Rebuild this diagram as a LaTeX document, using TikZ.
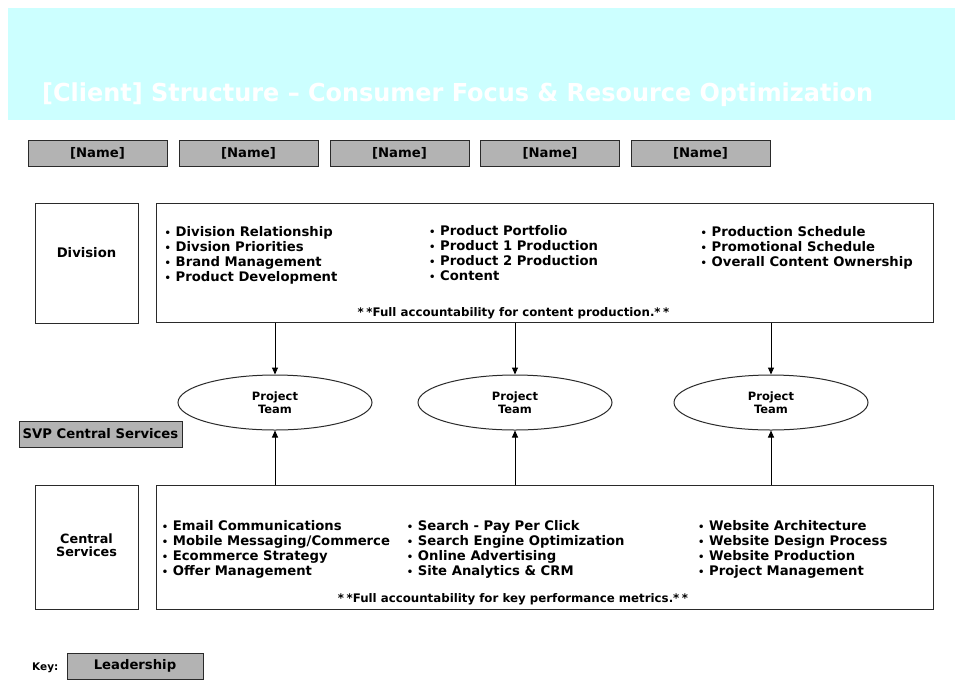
\documentclass[tikz,border=0pt]{standalone}
\usepackage{fontspec}
\usepackage{graphicx}
\setmainfont{DejaVu Sans}
\usetikzlibrary{shapes.geometric,arrows.meta}
\definecolor{bannercyan}{HTML}{CCFFFF}
\definecolor{leadgray}{HTML}{B3B3B3}
\definecolor{edge}{HTML}{2A2A2A}
\newcommand\bl{\makebox[11pt][l]{\fontsize{10}{10}\selectfont •}}
\newcommand\stars{*\kern2.5pt*}
\begin{document}
\begin{tikzpicture}[x=1pt,y=-1pt,
  every node/.style={font=\bfseries\fontsize{13.2}{15}\selectfont, text=black},
  graybox/.style={draw=edge, line width=1pt, fill=leadgray, minimum height=26, inner sep=0},
  framebox/.style={draw=edge, line width=1pt, fill=white},
  cols/.style={anchor=base west, inner sep=0, align=left},
  foot/.style={anchor=base, inner sep=0, font=\bfseries\fontsize{11.8}{13}\selectfont},
  team/.style={draw=edge, line width=1pt, ellipse, minimum width=194, minimum height=55, inner sep=0, align=center, font=\bfseries\fontsize{11.5}{13.3}\selectfont},
  conn/.style={draw=black, line width=1pt, -{Triangle[length=7pt,width=6pt]}}
]
\useasboundingbox (0,0) rectangle (955,681);
\fill[white] (0,0) rectangle (955,681);
% banner
\fill[bannercyan] (8,8) rectangle (955,120);
\node[anchor=base west, inner sep=0, text=white] (title) at (42,101)
  {\fontsize{24.7}{28}\selectfont\resizebox{831pt}{\height}{[Client] Structure – Consumer Focus \& Resource Optimization}};
% name boxes
\foreach \i/\x in {1/97.5,2/248.5,3/399.5,4/550,5/700.5}
  \node[graybox, minimum width=139] (name\i) at (\x,153) {[Name]};
% division
\node[framebox, minimum width=103, minimum height=120, inner sep=0] (divlbl) at (86.5,263) {};
\node[inner sep=0] (divtxt) at (86.5,253) {Division};
\node[framebox, minimum width=777, minimum height=119, inner sep=0] (div) at (544.5,262.5) {};
\node[cols] (d1) at (164.5,236.7) {\begin{tabular}[t]{@{}l@{}}\bl Division Relationship\\ \bl Divsion Priorities\\ \bl Brand Management\\ \bl Product Development\end{tabular}};
\node[cols] (d2) at (429,235.7) {\begin{tabular}[t]{@{}l@{}}\bl Product Portfolio\\ \bl Product 1 Production\\ \bl Product 2 Production\\ \bl Content\end{tabular}};
\node[cols] (d3) at (700.5,236.7) {\begin{tabular}[t]{@{}l@{}}\bl Production Schedule\\ \bl Promotional Schedule\\ \bl Overall Content Ownership\end{tabular}};
\node[foot] (dfoot) at (513.5,316.5) {\stars Full accountability for content production.\stars};
% project teams
\node[team] (pt1) at (275,402.5) {Project\\Team};
\node[team] (pt2) at (515,402.5) {Project\\Team};
\node[team] (pt3) at (771,402.5) {Project\\Team};
% SVP
\node[graybox, minimum width=163] (svp) at (100.5,434) {SVP Central Services};
% central
\node[framebox, minimum width=103, minimum height=124, inner sep=0] (cenlbl) at (86.5,547) {};
\node[inner sep=0, align=center, font=\bfseries\fontsize{12.8}{13.3}\selectfont] (centxt) at (86.5,545) {Central\\Services};
\node[framebox, minimum width=777, minimum height=124, inner sep=0] (cen) at (544.5,547) {};
\node[cols] (c1) at (161.7,530) {\begin{tabular}[t]{@{}l@{}}\bl Email Communications\\ \bl Mobile Messaging/Commerce\\ \bl Ecommerce Strategy\\ \bl Offer Management\end{tabular}};
\node[cols] (c2) at (406.7,530) {\begin{tabular}[t]{@{}l@{}}\bl Search - Pay Per Click\\ \bl Search Engine Optimization\\ \bl Online Advertising\\ \bl Site Analytics \& CRM\end{tabular}};
\node[cols] (c3) at (698,530) {\begin{tabular}[t]{@{}l@{}}\bl Website Architecture\\ \bl Website Design Process\\ \bl Website Production\\ \bl Project Management\end{tabular}};
\node[foot] (cfoot) at (513,602) {\stars Full accountability for key performance metrics.\stars};
% connectors
\foreach \p in {pt1,pt2,pt3} {
  \draw[conn] (\p.north |- div.south) -- (\p.north);
  \draw[conn] (\p.south |- cen.north) -- (\p.south);
}
% key
\node[anchor=base west, inner sep=0, font=\bfseries\fontsize{10.5}{12}\selectfont] (key) at (32,670) {Key:};
\node[graybox, minimum width=136] (lead) at (135,666) {Leadership};
\end{tikzpicture}
\end{document}
